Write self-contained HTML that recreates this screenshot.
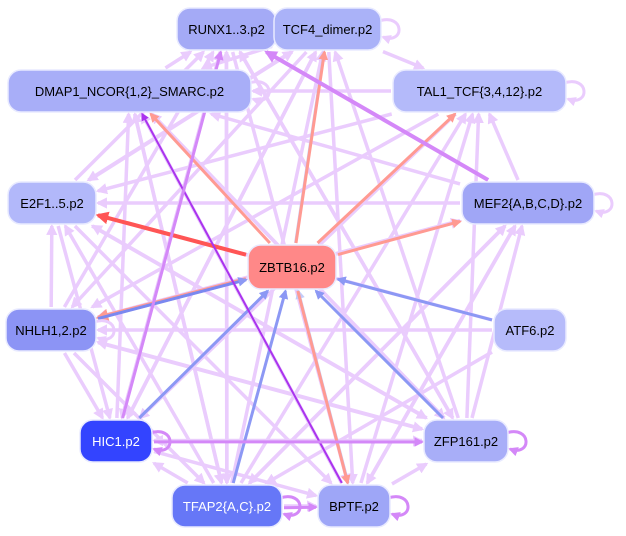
<!DOCTYPE html>
<html><head><meta charset="utf-8"><style>
html,body{margin:0;padding:0;background:#fff;width:626px;height:536px;overflow:hidden}
svg{display:block}
text{font-family:"Liberation Sans",sans-serif;font-size:13px}
</style></head><body>
<svg id="s" width="626" height="536" xmlns="http://www.w3.org/2000/svg">
<defs>
<marker id="m0" viewBox="0 0 10 10" refX="8" refY="5" markerWidth="3.2" markerHeight="3.2" orient="auto"><path d="M0,0L10,5L0,10z" fill="#eaccfd"/></marker>
<marker id="m1" viewBox="0 0 10 10" refX="8" refY="5" markerWidth="3.2" markerHeight="3.2" orient="auto"><path d="M0,0L10,5L0,10z" fill="#ff9a92"/></marker>
<marker id="m2" viewBox="0 0 10 10" refX="8" refY="5" markerWidth="3.2" markerHeight="3.2" orient="auto"><path d="M0,0L10,5L0,10z" fill="#ff5555"/></marker>
<marker id="m3" viewBox="0 0 10 10" refX="8" refY="5" markerWidth="3.2" markerHeight="3.2" orient="auto"><path d="M0,0L10,5L0,10z" fill="#8c98f4"/></marker>
<marker id="m4" viewBox="0 0 10 10" refX="8" refY="5" markerWidth="3.2" markerHeight="3.2" orient="auto"><path d="M0,0L10,5L0,10z" fill="#c4ccf8"/></marker>
<marker id="m5" viewBox="0 0 10 10" refX="8" refY="5" markerWidth="4" markerHeight="4" orient="auto"><path d="M0,0L10,5L0,10z" fill="#aa33ee"/></marker>
<marker id="m6" viewBox="0 0 10 10" refX="8" refY="5" markerWidth="3.2" markerHeight="3.2" orient="auto"><path d="M0,0L10,5L0,10z" fill="#d488f8"/></marker>
</defs>
<g id="edges"></g>
<g id="nodes"></g>
</svg>
<script>
var N={
RUNX:[177,8,99,42,"#a4aaf6","RUNX1..3.p2","#000"],
TCF4:[274,8,107,42,"#aab2f8","TCF4_dimer.p2","#000"],
DMAP:[8,70,243,42,"#a8aef8","DMAP1_NCOR{1,2}_SMARC.p2","#000"],
TAL1:[393,70,173,42,"#b4bafa","TAL1_TCF{3,4,12}.p2","#000"],
E2F:[8,182,88,42,"#b2b8fa","E2F1..5.p2","#000"],
MEF2:[462,182,132,42,"#a0a6f6","MEF2{A,B,C,D}.p2","#000"],
ZBTB:[248,245,88,44,"#ff8888","ZBTB16.p2","#000"],
NHLH:[6,309,90,42,"#8c94f5","NHLH1,2.p2","#000"],
ATF6:[494,309,72,42,"#b6bbfa","ATF6.p2","#000"],
HIC1:[80,420,72,42,"#3344ff","HIC1.p2","#fff"],
ZFP:[424,420,84,42,"#a8aef8","ZFP161.p2","#000"],
TFAP:[172,485,110,42,"#6677f7","TFAP2{A,C}.p2","#fff"],
BPTF:[318,485,72,42,"#9ea6f7","BPTF.p2","#000"]};
function c(k){var n=N[k];return[n[0]+n[2]/2,n[1]+n[3]/2];}
function clip(k,x0,y0,x1,y1){var n=N[k],cx=n[0]+n[2]/2,cy=n[1]+n[3]/2,dx=x0-cx,dy=y0-cy;var hw=n[2]/2+2,hh=n[3]/2+2;var t=Math.min(dx?hw/Math.abs(dx):1e9,dy?hh/Math.abs(dy):1e9);return[cx+dx*t,cy+dy*t];}
var light="E2F:HIC1 NHLH:HIC1 HIC1:RUNX HIC1:TCF4 NHLH:TFAP TFAP:RUNX TFAP:DMAP TFAP:E2F TFAP:TCF4 TFAP:TAL1 TFAP:MEF2 TFAP:HIC1 TFAP:BPTF HIC1:ZFP HIC1:BPTF E2F:ZFP E2F:BPTF NHLH:ZFP NHLH:MEF2 DMAP:ZFP RUNX:ZFP RUNX:BPTF RUNX:TFAP TCF4:TAL1 TCF4:DMAP TCF4:E2F TCF4:NHLH TCF4:HIC1 TCF4:BPTF TAL1:E2F TAL1:NHLH TAL1:DMAP MEF2:DMAP MEF2:E2F MEF2:NHLH MEF2:TFAP MEF2:BPTF ZFP:MEF2 ZFP:TAL1 ZFP:TCF4 ZFP:RUNX ZFP:DMAP ZFP:E2F ZFP:NHLH ATF6:NHLH ATF6:TFAP BPTF:TAL1 BPTF:MEF2 BPTF:ZFP E2F:RUNX DMAP:RUNX NHLH:E2F MEF2:TAL1 ZFP:HIC1 NHLH:RUNX E2F:TCF4 HIC1:DMAP BPTF:DMAP ATF6:E2F TAL1:HIC1 DMAP:TFAP RUNX:HIC1";
var special=[["ZBTB","E2F","#ff5555",4,"m2"],["ZBTB","DMAP","#ff9a92",3,"m1"],["ZBTB","TCF4","#c4ccf8",3,"m4"],["ZBTB","TCF4","#ff9a92",3,"m1"],["ZBTB","TAL1","#ff9a92",3,"m1"],["ZBTB","MEF2","#ff9a92",3,"m1"],["ZBTB","NHLH","#ff9a92",4,"m1"],["NHLH","ZBTB","#7a88f0",3,"m3"],["HIC1","ZBTB","#8c98f4",3,"m3"],["TFAP","ZBTB","#8c98f4",3,"m3"],["ZFP","ZBTB","#8c98f4",3,"m3"],["ATF6","ZBTB","#8c98f4",3,"m3"],["BPTF","ZBTB","#c4ccf8",3,"m4"],["ZBTB","BPTF","#ff9a92",3,"m1"],["BPTF","DMAP","#aa33ee",2,"m5"],["MEF2","RUNX","#d488f8",4,"m6"],["HIC1","RUNX","#d488f8",3,"m6"],["TFAP","BPTF","#d488f8",3,"m6"],["HIC1","ZFP","#d488f8",3,"m6"]];
var E=document.getElementById("edges"),s="";
var off={};
function line(a,b,col,w,m){var o=(off[[a,b].sort().join()]=(off[[a,b].sort().join()]||0)+1)-1;var p=c(a),q=c(b);var dx=q[0]-p[0],dy=q[1]-p[1],L=Math.hypot(dx,dy);var ox=-dy/L*o*4,oy=dx/L*o*4;var x0=p[0]+ox,y0=p[1]+oy,x1=q[0]+ox,y1=q[1]+oy;var st=clip(a,x1,y1,x0,y0),en=clip(b,x0,y0,x1,y1);s+='<line x1="'+st[0]+'" y1="'+st[1]+'" x2="'+en[0]+'" y2="'+en[1]+'" stroke="'+col+'" stroke-width="'+w+'" marker-end="url(#'+m+')"/>';}
light.split(" ").forEach(function(p){var a=p.split(":");line(a[0],a[1],"#eaccfd",3.5,"m0");});
special.forEach(function(e){line(e[0],e[1],e[2],e[3],e[4]);});
["TCF4","TAL1","MEF2","ZFP","BPTF","DMAP","TFAP","HIC1","NHLH"].forEach(function(k){var n=N[k],x=n[0]+n[2],y=n[1]+n[3]/2;var col=(k=="ZFP"||k=="BPTF"||k=="TFAP"||k=="HIC1")?"#d488f8":"#eaccfd";s+='<path d="M'+(x-2)+','+(y-8)+' C'+(x+24)+','+(y-16)+' '+(x+24)+','+(y+16)+' '+(x+2)+','+(y+8)+'" fill="none" stroke="'+col+'" stroke-width="3" marker-end="url(#'+(col=="#d488f8"?"m6":"m0")+')"/>';});
s+='<path d="M274,21 C300,14 300,42 274,37" fill="none" stroke="#d488f8" stroke-width="3.5" marker-end="url(#m6)"/>';
E.innerHTML=s;
var G=document.getElementById("nodes"),t="";
for(var k in N){var n=N[k];t+='<rect x="'+n[0]+'" y="'+n[1]+'" width="'+n[2]+'" height="'+n[3]+'" rx="13" fill="'+n[4]+'" stroke="#e8eaff" stroke-width="1.5"/><text x="'+(n[0]+n[2]/2)+'" y="'+(n[1]+n[3]/2+5)+'" text-anchor="middle" fill="'+n[6]+'">'+n[5]+'</text>';}
G.innerHTML=t;
</script>
</body></html>
